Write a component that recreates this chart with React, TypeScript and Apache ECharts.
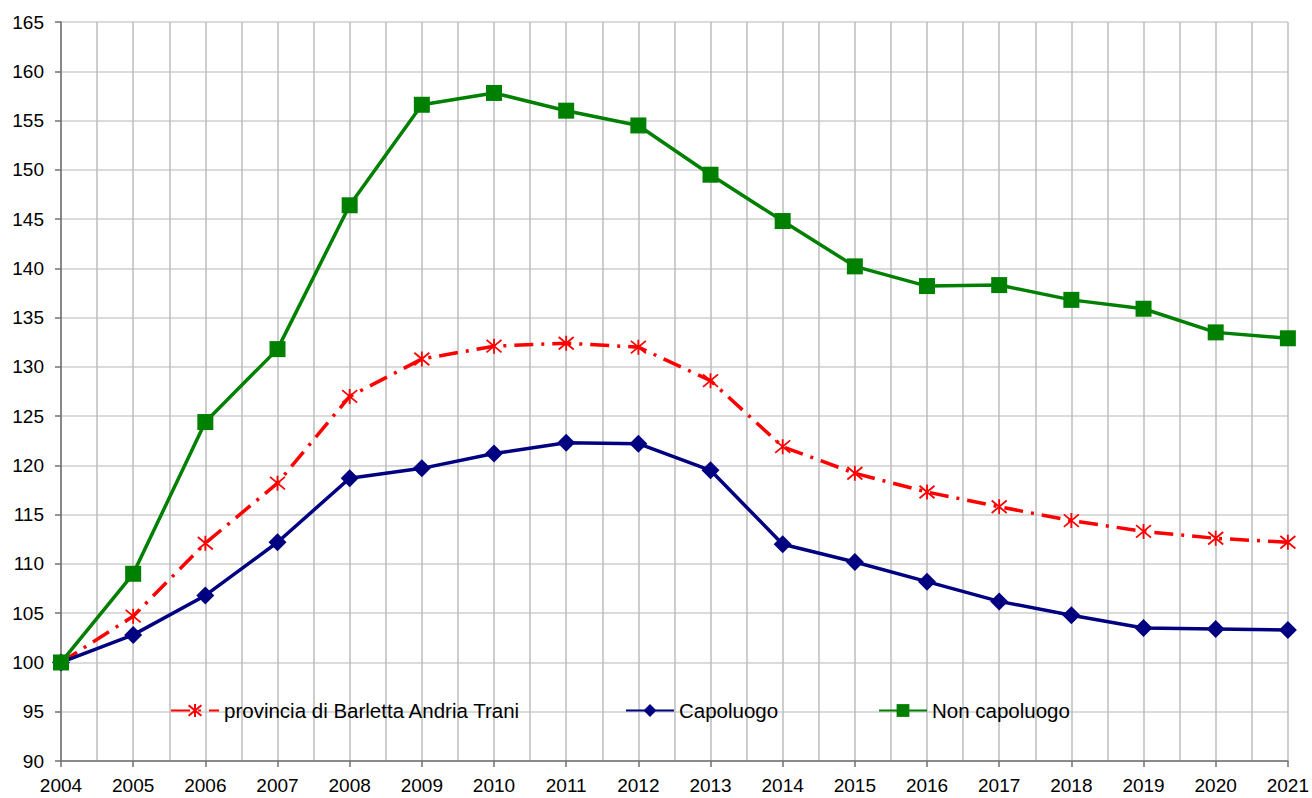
import React, { useEffect, useRef } from "react";
import * as echarts from "echarts";

const years = [2004, 2005, 2006, 2007, 2008, 2009, 2010, 2011, 2012, 2013, 2014, 2015, 2016, 2017, 2018, 2019, 2020, 2021];
const provincia = [100, 104.7, 112.1, 118.2, 127.0, 130.8, 132.1, 132.4, 132.0, 128.6, 121.9, 119.2, 117.3, 115.8, 114.4, 113.3, 112.6, 112.2];
const capoluogo = [100, 102.8, 106.8, 112.2, 118.7, 119.7, 121.2, 122.3, 122.2, 119.5, 112.0, 110.2, 108.2, 106.2, 104.8, 103.5, 103.4, 103.3];
const nonCapoluogo = [100, 109.0, 124.4, 131.8, 146.4, 156.6, 157.8, 156.0, 154.5, 149.5, 144.8, 140.2, 138.2, 138.3, 136.8, 135.9, 133.5, 132.9];
const seriesNames = ["provincia di Barletta Andria Trani", "Capoluogo", "Non capoluogo"];

const FONT = "'Liberation Sans', Arial, sans-serif";
const ASTERISK = "path://M0,0 L10,10 M10,0 L0,10 M5,-1 L5,11";

export default function App() {
  const ref = useRef<HTMLDivElement>(null);
  useEffect(() => {
    if (!ref.current) return;
    const chart = echarts.init(ref.current, null, { renderer: "svg" });
    const pairs = (arr: number[]) => years.map((y, i) => [y, arr[i]]);
    const legendBase = {
      top: 700,
      itemWidth: 48,
      itemHeight: 16,
      textStyle: { color: "#000", fontSize: 20.5, fontFamily: FONT },
      padding: 0,
    };
    chart.setOption({
      animation: false,
      backgroundColor: "#fff",
      grid: { left: 61, right: 20, top: 22, bottom: 37, containLabel: false },
      legend: [
        { ...legendBase, left: 170, data: [seriesNames[0]] },
        { ...legendBase, left: 625, data: [seriesNames[1]] },
        { ...legendBase, left: 878, data: [seriesNames[2]] },
      ],
      xAxis: {
        type: "value",
        min: 2004,
        max: 2021,
        interval: 1,
        axisLine: { show: true, onZero: false, lineStyle: { color: "#707070", width: 1.5 } },
        axisTick: { show: true, length: 6, lineStyle: { color: "#707070", width: 1.5 } },
        axisLabel: {
          formatter: (v: number) => String(v),
          color: "#000",
          fontSize: 19,
          fontFamily: FONT,
          margin: 15,
          showMaxLabel: true,
          showMinLabel: true,
        },
        splitLine: { show: true, lineStyle: { color: "#bdbdbd", width: 1.5 } },
        minorTick: { show: false, splitNumber: 2 },
        minorSplitLine: { show: true, lineStyle: { color: "#bdbdbd", width: 1.5 } },
      },
      yAxis: {
        type: "value",
        min: 90,
        max: 165,
        interval: 5,
        axisLine: { show: true, lineStyle: { color: "#707070", width: 1.5 } },
        axisTick: { show: true, length: 6, lineStyle: { color: "#707070", width: 1.5 } },
        axisLabel: { color: "#000", fontSize: 19, fontFamily: FONT, margin: 17 },
        splitLine: { show: true, lineStyle: { color: "#cfcfcf", width: 1.5 } },
      },
      series: [
        {
          name: seriesNames[0],
          type: "line",
          data: pairs(provincia),
          symbol: ASTERISK,
          symbolSize: 15,
          lineStyle: { color: "#ff0000", width: 3.5, type: [19, 8, 3, 8] },
          itemStyle: { color: "#ff0000", borderColor: "#ff0000", borderWidth: 1.8 },
          z: 2,
        },
        {
          name: seriesNames[1],
          type: "line",
          data: pairs(capoluogo),
          symbol: "diamond",
          symbolSize: 18,
          lineStyle: { color: "#000080", width: 3.5 },
          itemStyle: { color: "#000080" },
          z: 3,
        },
        {
          name: seriesNames[2],
          type: "line",
          data: pairs(nonCapoluogo),
          symbol: "rect",
          symbolSize: 16,
          lineStyle: { color: "#008000", width: 3.5 },
          itemStyle: { color: "#008000" },
          z: 4,
        },
      ],
    });
    return () => chart.dispose();
  }, []);
  return (
    <div
      ref={ref}
      style={{ position: "absolute", left: 0, top: 0, width: 1312, height: 798 }}
    />
  );
}
